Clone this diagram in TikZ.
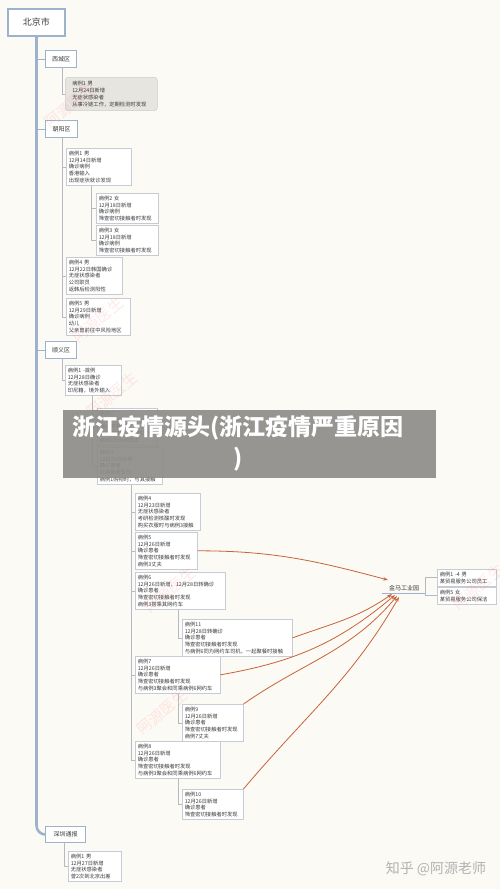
\documentclass[tikz,border=0pt]{standalone}
\usepackage{fontspec}
\setmainfont{Noto Sans CJK SC}
\usetikzlibrary{arrows.meta}
\definecolor{bgcol}{HTML}{FCFAF4}
\definecolor{framecol}{HTML}{9FB2CB}
\definecolor{linecol}{HTML}{B4BAC3}
\definecolor{boxcol}{HTML}{C6CCD4}
\definecolor{textcol}{HTML}{3A3A3A}
\definecolor{greycol}{HTML}{E7E5E0}
\definecolor{greyedge}{HTML}{CFCDC7}
\definecolor{redcol}{HTML}{C8623A}
\definecolor{bandcol}{HTML}{8E8D89}
\newcommand{\casefont}{\fontsize{5.3}{6.8}\selectfont}
\tikzset{
  rect0/.style = {
    shape = rectangle,
    draw = framecol,
    line width = 1.8pt,
    fill = white,
    minimum width = 57pt,
    minimum height = 27pt,
    text = textcol,
    font = \fontsize{9}{10}\selectfont,
  }
}
\tikzset{
  rect2/.style = {
    shape = rectangle,
    draw = framecol,
    line width = 1.1pt,
    fill = white,
    anchor = north west,
    inner sep = 1pt,
    minimum height = 17pt,
    minimum width = #1,
    text = textcol,
    font = \fontsize{6}{7}\selectfont,
  }
}
\tikzset{
  rect1/.style = {
    shape = rectangle,
    draw = boxcol,
    line width = 0.5pt,
    fill = white,
    anchor = north west,
    align = left,
    inner xsep = 2.5pt,
    inner ysep = 2.5pt,
    text width = #1,
    text = textcol,
    font = \casefont,
  },
  rect1g/.style = {
    rect1 = 78pt,
    draw = greyedge,
    fill = greycol,
    rounded corners = 3pt,
    inner xsep = 7pt,
    inner ysep = 4pt,
  }
}
\tikzset{
  hub/.style = {anchor = south, minimum width = 43pt, inner sep = 1.5pt,
    text = textcol, font = \fontsize{6}{7}\selectfont},
  line1/.style = {draw = linecol, line width = 0.5pt},
  line2/.style = {draw = framecol, line width = 0.6pt},
  line3/.style = {draw = framecol, line width = 1pt},
  trunk/.style = {draw = framecol, line width = 2.6pt, rounded corners = 9pt},
  wm/.style = {text = red!70, opacity = 0.12, rotate = 40,
    font = \fontsize{15}{15}\selectfont},
}
\tikzset{
  arrow1/.style = {
    draw = redcol, line width = 0.8pt, -{Stealth[length = 5pt, width = 3.5pt]},
  }
}

\begin{document}
\begin{tikzpicture}[x=1pt, y=-1pt]
    \useasboundingbox (0,0) rectangle (500,889);
    \fill[bgcol] (0,0) rectangle (500,889);
    % city and districts
    \node[rect0](bj) at (36.5,22.5){北京市};
    \node[rect2 = 31pt](xc) at (45,50){西城区};
    \node[rect2 = 32pt](cy) at (45,120){朝阳区};
    \node[rect2 = 31pt](sy) at (45,341){顺义区};
    \node[rect2 = 40pt, minimum height = 16pt](sz) at (45,826){深圳通报};
    \draw[trunk](bj.south) |- (sz.west);
    \draw[line2](bj.south |- xc.west) -- (xc.west);
    \draw[line2](bj.south |- cy.west) -- (cy.west);
    \draw[line2](bj.south |- sy.west) -- (sy.west);
    % Xicheng
    \node[rect1g](xc1) at (65,77){病例1 男\\12月24日新增\\无症状感染者\\从事冷链工作，定期检测时发现};
    \draw[line1]([xshift=17pt]xc.south west) |- (xc1.west);
    % Chaoyang
    \node[rect1 = 60pt](cy1) at (66,148){病例1 男\\12月14日新增\\确诊病例\\香港输入\\出现症状就诊发现};
    \node[rect1 = 57pt](cy2) at (96,193){病例2 女\\12月18日新增\\确诊病例\\筛查密切接触者时发现};
    \node[rect1 = 57pt](cy3) at (96,225){病例3 女\\12月18日新增\\确诊病例\\筛查密切接触者时发现};
    \node[rect1 = 51pt](cy4) at (66,257){病例4 男\\12月22日韩国确诊\\无症状感染者\\公司职员\\返韩后检测阳性};
    \node[rect1 = 59pt](cy5) at (66,298){病例5 男\\12月29日新增\\确诊病例\\幼儿\\父亲曾前往中风险地区};
    \draw[line1]([xshift=17pt]cy.south west) |- (cy1.west);
    \draw[line1]([xshift=17pt]cy.south west) |- (cy4.west);
    \draw[line1]([xshift=17pt]cy.south west) |- (cy5.west);
    \draw[line1]([xshift=25pt]cy1.south west) |- (cy2.west);
    \draw[line1]([xshift=25pt]cy1.south west) |- (cy3.west);
    % Shunyi
    \node[rect1 = 51pt](sy1) at (65,365){病例1 -首例\\12月28日确诊\\无症状感染者\\印尼籍，境外输入};
    \node[rect1 = 55pt](sy2) at (97,408){病例2\\12月25日新增\\确诊患者\\筛查密切接触者时发现\\病例1的合租室友};
    \node[rect1 = 60pt](sy3) at (97,447){病例3\\12月25日新增\\确诊患者\\应用筛查发现\\病例1购物时，与其接触};
    \node[rect1 = 60pt](sy4) at (135,493){病例4\\12月23日新增\\无症状感染者\\考研检测核酸时发现\\购买衣服时与病例3接触};
    \node[rect1 = 57pt](sy5) at (135,532){病例5\\12月26日新增\\确诊患者\\筛查密切接触者时发现\\病例3丈夫};
    \node[rect1 = 85pt](sy6) at (135,572){病例6\\12月26日新增，12月28日转确诊\\确诊患者\\筛查密切接触者时发现\\病例3搭乘其网约车};
    \node[rect1 = 105pt](sy11) at (182,619){病例11\\12月28日转确诊\\确诊患者\\筛查密切接触者时发现\\与病例6同为网约车司机，一起聚餐时接触};
    \node[rect1 = 80pt](sy7) at (135,656){病例7\\12月26日新增\\确诊患者\\筛查密切接触者时发现\\与病例3聚会和同乘病例6网约车};
    \node[rect1 = 56pt](sy9) at (182,704){病例9\\12月26日新增\\确诊患者\\筛查密切接触者时发现\\病例7丈夫};
    \node[rect1 = 80pt](sy8) at (135,741){病例8\\12月26日新增\\确诊患者\\筛查密切接触者时发现\\与病例3聚会和同乘病例6网约车};
    \node[rect1 = 56pt](sy10) at (182,789){病例10\\12月26日新增\\确诊患者\\筛查密切接触者时发现};
    \draw[line1]([xshift=17pt]sy.south west) |- (sy1.west);
    \draw[line1]([xshift=27pt]sy1.south west) |- (sy2.west);
    \draw[line1]([xshift=27pt]sy1.south west) |- (sy3.west);
    \draw[line1]([xshift=34pt]sy3.south west) |- (sy4.west);
    \draw[line1]([xshift=34pt]sy3.south west) |- (sy5.west);
    \draw[line1]([xshift=34pt]sy3.south west) |- (sy6.west);
    \draw[line1]([xshift=34pt]sy3.south west) |- (sy7.west);
    \draw[line1]([xshift=34pt]sy3.south west) |- (sy8.west);
    \draw[line1]([xshift=43pt]sy6.south west) |- (sy11.west);
    \draw[line1]([xshift=43pt]sy7.south west) |- (sy9.west);
    \draw[line1]([xshift=43pt]sy8.south west) |- (sy10.west);
    % Jinma industrial park
    \node[hub](jm) at (404,593){金马工业园};
    \node[rect1 = 54pt](jm1) at (437,569){病例1 -4 男\\某贸易服务公司员工};
    \node[rect1 = 54pt](jm2) at (437,587){病例5 女\\某贸易服务公司保洁};
    \draw[line3](jm.south west) -- (jm.south east);
    \draw[line1](jm.south east) |- (jm1.west);
    \draw[line1](jm.south east) |- (jm2.west);
    \coordinate (jmA) at (388,580);
    \coordinate (jmB) at (392,594);
    \coordinate (jmC) at (395,595);
    \coordinate (jmD) at (397,596);
    \coordinate (jmE) at (399,597);
    \draw[arrow1](sy5.east) to[out=0, in=165] (jmA);
    \draw[arrow1](sy11.east) to[out=20, in=215] (jmB);
    \draw[arrow1](sy7.east) to[out=10, in=220] (jmC);
    \draw[arrow1](sy9.north east) to[out=35, in=230] (jmD);
    \draw[arrow1](sy10.north east) to[out=50, in=240] (jmE);
    % Shenzhen
    \node[rect1 = 48pt](sz1) at (68,851){病例1 男\\12月27日新增\\无症状感染者\\曾2次到北京出差};
    \draw[line1]([xshift=19pt]sz.south west) |- (sz1.west);
    % watermarks
    \node[wm](wm1) at (70,105){阿源医生};
    \node[wm](wm2) at (98,320){阿源医生};
    \node[wm](wm3) at (112,395){阿源医生};
    \node[wm](wm4) at (170,590){阿源医生};
    \node[wm](wm5) at (162,712){阿源医生};
    \node[wm](wm6) at (478,587){阿源医生};
    % title band
    \fill[bandcol, opacity = 0.92] (63,410) rectangle (436,478);
    \node[text = white, align = center, font = \fontsize{23}{31}\selectfont\bfseries](ttl) at (238,443){浙江疫情源头(浙江疫情严重原因\\)};
    \node[text = black!30, font = \fontsize{14}{15}\selectfont](zh) at (436,869){知乎 @阿源老师};
\end{tikzpicture}
\end{document}
